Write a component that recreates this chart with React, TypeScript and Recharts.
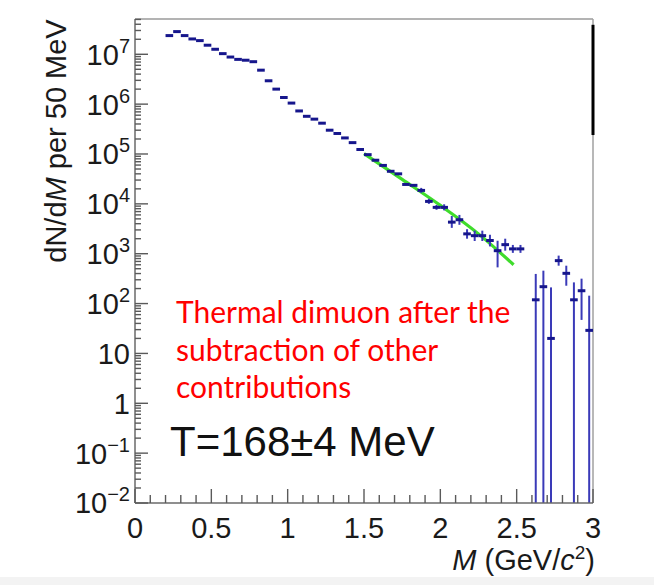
import React from 'react';
import { ComposedChart, Scatter, Line, XAxis, YAxis, ErrorBar, ReferenceLine } from 'recharts';

// Bin centres (GeV/c^2), 50 MeV bins
const massBins = [
  0.225, 0.275, 0.325, 0.375, 0.425, 0.475, 0.525, 0.575, 0.625, 0.675,
  0.725, 0.775, 0.825, 0.875, 0.925, 0.975, 1.025, 1.075, 1.125, 1.175,
  1.225, 1.275, 1.325, 1.375, 1.425, 1.475, 1.525, 1.575, 1.625, 1.675,
  1.725, 1.775, 1.825, 1.875, 1.925, 1.975, 2.025, 2.075, 2.125, 2.175,
  2.225, 2.275, 2.325, 2.375, 2.425, 2.475, 2.525, 2.625, 2.675, 2.725,
  2.775, 2.825, 2.875, 2.925, 2.975,
];
// dN/dM per 50 MeV
const counts = [
  2.37e7, 2.85e7, 2.37e7, 2.03e7, 1.88e7, 1.52e7, 1.26e7, 1.03e7, 8.8e6, 7.9e6,
  7.6e6, 7.1e6, 4.8e6, 2.94e6, 2.0e6, 1.36e6, 1.05e6, 7.3e5, 5.7e5, 5.0e5,
  4.15e5, 3.0e5, 2.58e5, 2.1e5, 1.69e5, 1.23e5, 9.7e4, 7.5e4, 5.9e4, 4.5e4,
  4.0e4, 2.45e4, 2.35e4, 1.86e4, 1.12e4, 8.5e3, 8.5e3, 4.3e3, 4.8e3, 2.5e3,
  2.3e3, 2.3e3, 1.84e3, 1.15e3, 1.52e3, 1.25e3, 1.25e3, 119, 218, 20,
  726, 404, 119, 181, 29,
];
// lower / upper edge of the vertical error bar (null = negligible)
const errLow: (number | null)[] = [
  null, null, null, null, null, null, null, null, null, null,
  null, null, null, null, null, null, null, null, null, null,
  null, null, null, null, null, null, null, null, null, null,
  null, null, null, 1.66e4, 1.0e4, 7.6e3, 7.4e3, 3.3e3, 3.8e3, 2.0e3,
  1.8e3, 1.8e3, 1.4e3, 532, 1.15e3, 1.04e3, 1.04e3, 0.01, 0.01, 0.01,
  575, 228, 0.01, 47, 0.01,
];
const errHigh: (number | null)[] = [
  null, null, null, null, null, null, null, null, null, null,
  null, null, null, null, null, null, null, null, null, null,
  null, null, null, null, null, null, null, null, null, null,
  null, null, null, 2.09e4, 1.26e4, 9.5e3, 9.8e3, 5.7e3, 6.0e3, 3.1e3,
  2.9e3, 2.9e3, 2.4e3, 1.82e3, 2.0e3, 1.5e3, 1.5e3, 393, 457, 211,
  916, 575, 266, 316, 144,
];
const binHalfWidth = 0.025;

// Exponential fit (green)
const fitMass = [1.5, 1.75, 2.0, 2.25, 2.48];
const fitValue = [1.02e5, 3.1e4, 9.3e3, 2.5e3, 6.0e2];

const xTickValues = [
  0, 0.1, 0.2, 0.3, 0.4, 0.5, 0.6, 0.7, 0.8, 0.9, 1, 1.1, 1.2, 1.3, 1.4, 1.5,
  1.6, 1.7, 1.8, 1.9, 2, 2.1, 2.2, 2.3, 2.4, 2.5, 2.6, 2.7, 2.8, 2.9, 3,
];
const yDecades = [-2, -1, 0, 1, 2, 3, 4, 5, 6, 7];
const yMin = 0.01;
const yMax = 5.1e7;

const points = massBins.map((m, i) => {
  const v = counts[i];
  const lo = errLow[i];
  const hi = errHigh[i];
  return {
    m,
    v,
    xe: binHalfWidth,
    ye: [lo == null ? 0 : v - lo, hi == null ? 0 : hi - v],
  };
});
const fitData = fitMass.map((m, i) => ({ m, v: fitValue[i] }));

const yTicks: number[] = [];
yDecades.forEach((k) => {
  for (let j = 1; j <= 9; j++) {
    const t = j * Math.pow(10, k);
    if (t <= yMax) yTicks.push(Number(t.toPrecision(3)));
  }
});

const FONT = '"Liberation Sans", Arial, Helvetica, sans-serif';
const TICK_COLOR = '#5a5a5a';
const Y_TICK_MARGIN = 5;
const X_TICK_MARGIN = 12;

const YTick = (props: any) => {
  const { x, y, payload } = props;
  const v = payload.value as number;
  const exp = Math.round(Math.log10(v));
  const isMajor = Math.abs(v - Math.pow(10, exp)) / v < 1e-6;
  const axisX = x + Y_TICK_MARGIN;
  let label: React.ReactNode = null;
  if (isMajor) {
    if (exp === 0 || exp === 1) {
      label = (
        <text x={x} y={y} dy="0.36em" textAnchor="end" fontSize={29} fontFamily={FONT} fill="#1a1a1a">
          {exp === 0 ? '1' : '10'}
        </text>
      );
    } else {
      label = (
        <text x={x} y={y} dy="0.36em" textAnchor="end" fontSize={29} fontFamily={FONT} fill="#1a1a1a">
          10
          <tspan dy={-12} fontSize={20}>
            {exp < 0 ? '\u2212' + String(-exp) : String(exp)}
          </tspan>
        </text>
      );
    }
  }
  return (
    <g>
      <line x1={axisX} x2={axisX + (isMajor ? 13 : 6)} y1={y} y2={y} stroke={TICK_COLOR} strokeWidth={1.4} />
      {label}
    </g>
  );
};

const XTick = (props: any) => {
  const { x, y, payload } = props;
  const v = payload.value as number;
  const isMajor = Math.abs(v * 2 - Math.round(v * 2)) < 1e-6;
  const axisY = y - X_TICK_MARGIN;
  return (
    <g>
      <line x1={x} x2={x} y1={axisY} y2={axisY - (isMajor ? 14 : 8)} stroke={TICK_COLOR} strokeWidth={1.4} />
      {isMajor && (
        <text x={x} y={y} dy="0.78em" textAnchor="middle" fontSize={29} fontFamily={FONT} fill="#1a1a1a">
          {String(v)}
        </text>
      )}
    </g>
  );
};

const NoShape = () => <g />;

export default function App() {
  return (
    <div style={{ position: 'absolute', left: 0, top: 0, width: 654, height: 585, background: '#ffffff' }}>
      <ComposedChart
        width={654}
        height={585}
        margin={{ top: 19, right: 61, left: 75, bottom: 42 }}
      >
        <XAxis
          dataKey="m"
          type="number"
          domain={[0, 3]}
          ticks={xTickValues}
          interval={0}
          allowDataOverflow
          height={40}
          tickSize={0}
          tickLine={false}
          tickMargin={X_TICK_MARGIN}
          tick={<XTick />}
          axisLine={{ stroke: '#6a6a6a', strokeWidth: 1.5 }}
        />
        <YAxis
          type="number"
          scale="log"
          domain={[yMin, yMax]}
          ticks={yTicks}
          interval={0}
          allowDataOverflow
          width={60}
          tickSize={0}
          tickLine={false}
          tickMargin={Y_TICK_MARGIN}
          tick={<YTick />}
          axisLine={{ stroke: '#6a6a6a', strokeWidth: 1.5 }}
        />
        <ReferenceLine y={yMax} stroke="#9a9a9a" strokeWidth={1.5} ifOverflow="visible" />
        <ReferenceLine x={3} stroke="#a0a0a0" strokeWidth={1.5} ifOverflow="visible" />
        <ReferenceLine
          segment={[{ x: 3, y: 3.9e7 }, { x: 3, y: 2.4e5 }]}
          stroke="#000000"
          strokeWidth={3}
          ifOverflow="visible"
        />
        <Line
          data={fitData}
          dataKey="v"
          type="monotone"
          stroke="#3fdc2c"
          strokeWidth={3.2}
          dot={false}
          isAnimationActive={false}
        />
        <Scatter data={points} dataKey="v" shape={<NoShape />} isAnimationActive={false}>
          <ErrorBar dataKey="ye" direction="y" width={0} stroke="#3a3ab8" strokeWidth={2} />
          <ErrorBar dataKey="xe" direction="x" width={0} stroke="#16168c" strokeWidth={3} />
        </Scatter>
      </ComposedChart>
      <svg
        width={654}
        height={585}
        style={{ position: 'absolute', left: 0, top: 0, pointerEvents: 'none' }}
      >
        <text
          transform="translate(66,141) rotate(-90)"
          textAnchor="middle"
          fontSize={29}
          fontFamily={FONT}
          fill="#1a1a1a"
        >
          dN/d<tspan fontStyle="italic">M</tspan> per 50 MeV
        </text>
        <text x={595} y={570} textAnchor="end" fontSize={29} fontFamily={FONT} fill="#1a1a1a">
          <tspan fontStyle="italic">M</tspan> (GeV/<tspan fontStyle="italic">c</tspan>
          <tspan dy={-11} fontSize={19}>2</tspan>
          <tspan dy={11}>)</tspan>
        </text>
        <g fontFamily='Lato, "Open Sans", sans-serif' fontSize={30} fill="#ff0000">
          <text x={176} y={323}>Thermal dimuon after the</text>
          <text x={176} y={361}>subtraction of other</text>
          <text x={176} y={398}>contributions</text>
        </g>
        <text x={170} y={456} fontSize={42} fontFamily={FONT} fill="#111111">
          T=168±4 MeV
        </text>
      </svg>
      <div style={{ position: 'absolute', left: 0, top: 577, width: 654, height: 8, background: '#f3f3f3' }} />
    </div>
  );
}
